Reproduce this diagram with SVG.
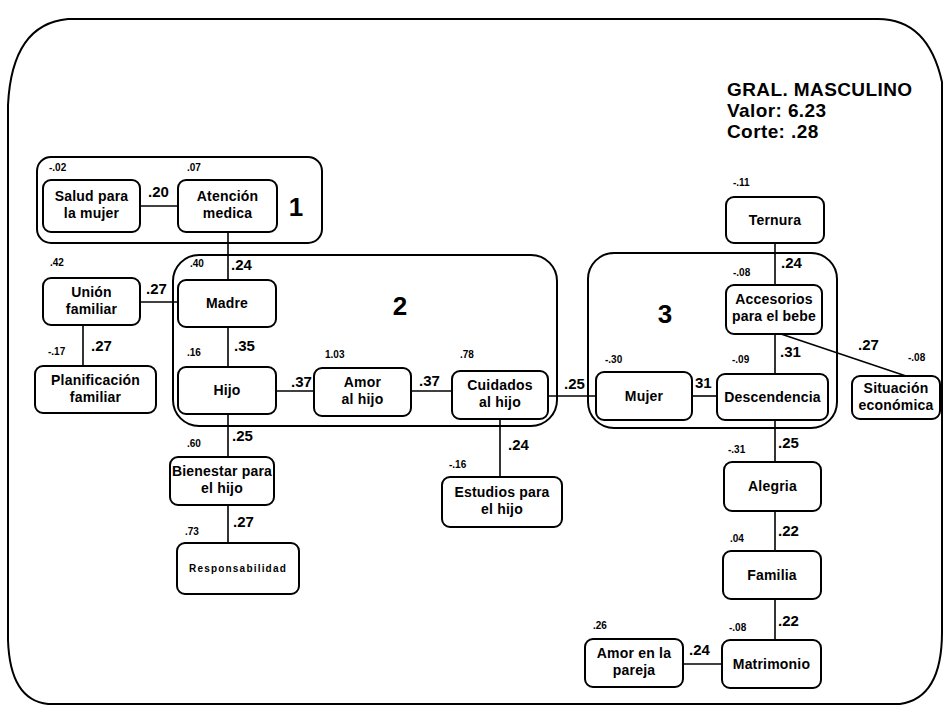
<svg xmlns="http://www.w3.org/2000/svg" width="947" height="717" viewBox="0 0 947 717">
<style>
.bg{fill:#fff}
.frame{fill:none;stroke:#000;stroke-width:2}
.grp{fill:none;stroke:#000;stroke-width:2}
.box{fill:#fff;stroke:#000;stroke-width:2}
.edge{stroke:#000;stroke-width:1.6;fill:none}
text{font-family:"Liberation Sans",Arial,sans-serif;font-weight:bold;fill:#000}
.t{font-size:14px;letter-spacing:0.2px;text-anchor:middle}
.v{font-size:10px}
.e{font-size:15px}
.big{font-size:26px;text-anchor:middle}
.title{font-size:19px;letter-spacing:0.4px}
</style>
<rect class="bg" x="0" y="0" width="947" height="717"/>
<path class="frame" d="M68,19 L878,19 Q928,19 942,82 L942,632 Q942,698 900,704 L48,704 Q10,700 8,640 L8,105 Q12,24 68,19 Z"/>
<g id="title">
<text class="title" x="727" y="96">GRAL. MASCULINO</text>
<text class="title" x="727" y="117">Valor: 6.23</text>
<text class="title" x="727" y="138">Corte: .28</text>
</g>
<g id="group1">
<rect class="grp" x="37" y="157" width="285" height="86" rx="14"/>
<text class="big" x="296" y="216">1</text>
</g>
<g id="group2">
<rect class="grp" x="173" y="255" width="384" height="171" rx="26"/>
<text class="big" x="400" y="315">2</text>
</g>
<g id="group3">
<rect class="grp" x="588" y="253" width="249" height="175" rx="26"/>
<text class="big" x="665" y="323">3</text>
</g>
<g id="connectors">
<line class="edge" x1="140" y1="206" x2="178" y2="206"/>
<line class="edge" x1="228" y1="232" x2="228" y2="280"/>
<line class="edge" x1="140" y1="302" x2="178" y2="302"/>
<line class="edge" x1="83" y1="325" x2="83" y2="366"/>
<line class="edge" x1="228" y1="327" x2="228" y2="367"/>
<line class="edge" x1="276" y1="391" x2="314" y2="391"/>
<line class="edge" x1="411" y1="391" x2="452" y2="391"/>
<line class="edge" x1="548" y1="396" x2="597" y2="396"/>
<line class="edge" x1="500" y1="418" x2="500" y2="477"/>
<line class="edge" x1="228" y1="414" x2="228" y2="457"/>
<line class="edge" x1="228" y1="505" x2="228" y2="543"/>
<line class="edge" x1="775" y1="243" x2="775" y2="285"/>
<line class="edge" x1="775" y1="334" x2="775" y2="374"/>
<line class="edge" x1="692" y1="396" x2="717" y2="396"/>
<line class="edge" x1="778" y1="333" x2="906" y2="376"/>
<line class="edge" x1="775" y1="420" x2="775" y2="462"/>
<line class="edge" x1="775" y1="511" x2="775" y2="551"/>
<line class="edge" x1="775" y1="599" x2="775" y2="640"/>
<line class="edge" x1="683" y1="664" x2="722" y2="664"/>
<text class="e" x="148" y="197">.20</text>
<text class="e" x="231" y="270">.24</text>
<text class="e" x="146" y="294">.27</text>
<text class="e" x="91" y="351">.27</text>
<text class="e" x="234" y="351">.35</text>
<text class="e" x="291" y="387">.37</text>
<text class="e" x="419" y="386">.37</text>
<text class="e" x="564" y="389">.25</text>
<text class="e" x="508" y="450">.24</text>
<text class="e" x="232" y="441">.25</text>
<text class="e" x="233" y="527">.27</text>
<text class="e" x="781" y="268">.24</text>
<text class="e" x="780" y="357">.31</text>
<text class="e" x="695" y="388">31</text>
<text class="e" x="858" y="350">.27</text>
<text class="e" x="778" y="448">.25</text>
<text class="e" x="778" y="536">.22</text>
<text class="e" x="778" y="626">.22</text>
<text class="e" x="689" y="655">.24</text>
</g>
<g id="n-salud"><rect class="box" x="43" y="180" width="97" height="52" rx="8"/><text class="t" x="91.5" y="201">Salud para</text><text class="t" x="91.5" y="218">la mujer</text><text class="v" x="49" y="171">-.02</text></g>
<g id="n-atencion"><rect class="box" x="178" y="180" width="99" height="52" rx="8"/><text class="t" x="227.5" y="201">Atención</text><text class="t" x="227.5" y="218">medica</text><text class="v" x="187" y="171">.07</text></g>
<g id="n-union"><rect class="box" x="43" y="278" width="97" height="47" rx="8"/><text class="t" x="91.5" y="297">Unión</text><text class="t" x="91.5" y="314">familiar</text><text class="v" x="50" y="266">.42</text></g>
<g id="n-planificacion"><rect class="box" x="35" y="366" width="121" height="47" rx="8"/><text class="t" x="95.5" y="385">Planificación</text><text class="t" x="95.5" y="402">familiar</text><text class="v" x="48" y="355">-.17</text></g>
<g id="n-madre"><rect class="box" x="178" y="280" width="98" height="47" rx="8"/><text class="t" x="227" y="308">Madre</text><text class="v" x="190" y="267">.40</text></g>
<g id="n-hijo"><rect class="box" x="178" y="367" width="98" height="47" rx="8"/><text class="t" x="227" y="395">Hijo</text><text class="v" x="187" y="356">.16</text></g>
<g id="n-amor-hijo"><rect class="box" x="314" y="368" width="97" height="48" rx="8"/><text class="t" x="362.5" y="387">Amor</text><text class="t" x="362.5" y="404">al hijo</text><text class="v" x="325" y="358">1.03</text></g>
<g id="n-cuidados"><rect class="box" x="452" y="371" width="96" height="48" rx="8"/><text class="t" x="500" y="390">Cuidados</text><text class="t" x="500" y="407">al hijo</text><text class="v" x="460" y="358">.78</text></g>
<g id="n-bienestar"><rect class="box" x="170" y="457" width="104" height="48" rx="8"/><text class="t" x="222" y="476">Bienestar para</text><text class="t" x="222" y="493">el hijo</text><text class="v" x="187" y="447">.60</text></g>
<g id="n-responsabilidad"><rect class="box" x="177" y="543" width="122" height="51" rx="8"/><text class="v" x="238" y="572" text-anchor="middle" style="letter-spacing:1.2px">Responsabilidad</text><text class="v" x="185" y="535">.73</text></g>
<g id="n-estudios"><rect class="box" x="442" y="477" width="120" height="50" rx="8"/><text class="t" x="502" y="497">Estudios para</text><text class="t" x="502" y="514">el hijo</text><text class="v" x="449" y="468">-.16</text></g>
<g id="n-ternura"><rect class="box" x="726" y="197" width="98" height="46" rx="8"/><text class="t" x="775" y="225">Ternura</text><text class="v" x="733" y="186">-.11</text></g>
<g id="n-accesorios"><rect class="box" x="726" y="285" width="96" height="49" rx="8"/><text class="t" x="774" y="304">Accesorios</text><text class="t" x="774" y="321">para el bebe</text><text class="v" x="733" y="276">-.08</text></g>
<g id="n-mujer"><rect class="box" x="596" y="372" width="96" height="48" rx="8"/><text class="t" x="644" y="401">Mujer</text><text class="v" x="605" y="363">-.30</text></g>
<g id="n-descendencia"><rect class="box" x="717" y="374" width="111" height="46" rx="8"/><text class="t" x="772.5" y="402">Descendencia</text><text class="v" x="732" y="363">-.09</text></g>
<g id="n-situacion"><rect class="box" x="852" y="376" width="88" height="43" rx="8"/><text class="t" x="896" y="393">Situación</text><text class="t" x="896" y="410">económica</text><text class="v" x="908" y="361">-.08</text></g>
<g id="n-alegria"><rect class="box" x="724" y="462" width="97" height="49" rx="8"/><text class="t" x="772.5" y="491">Alegria</text><text class="v" x="728" y="453">-.31</text></g>
<g id="n-familia"><rect class="box" x="723" y="551" width="98" height="48" rx="8"/><text class="t" x="772" y="580">Familia</text><text class="v" x="730" y="542">.04</text></g>
<g id="n-matrimonio"><rect class="box" x="722" y="640" width="99" height="48" rx="8"/><text class="t" x="771.5" y="669">Matrimonio</text><text class="v" x="729" y="631">-.08</text></g>
<g id="n-amor-pareja"><rect class="box" x="585" y="639" width="98" height="48" rx="8"/><text class="t" x="634" y="658">Amor en la</text><text class="t" x="634" y="675">pareja</text><text class="v" x="593" y="629">.26</text></g>
</svg>
